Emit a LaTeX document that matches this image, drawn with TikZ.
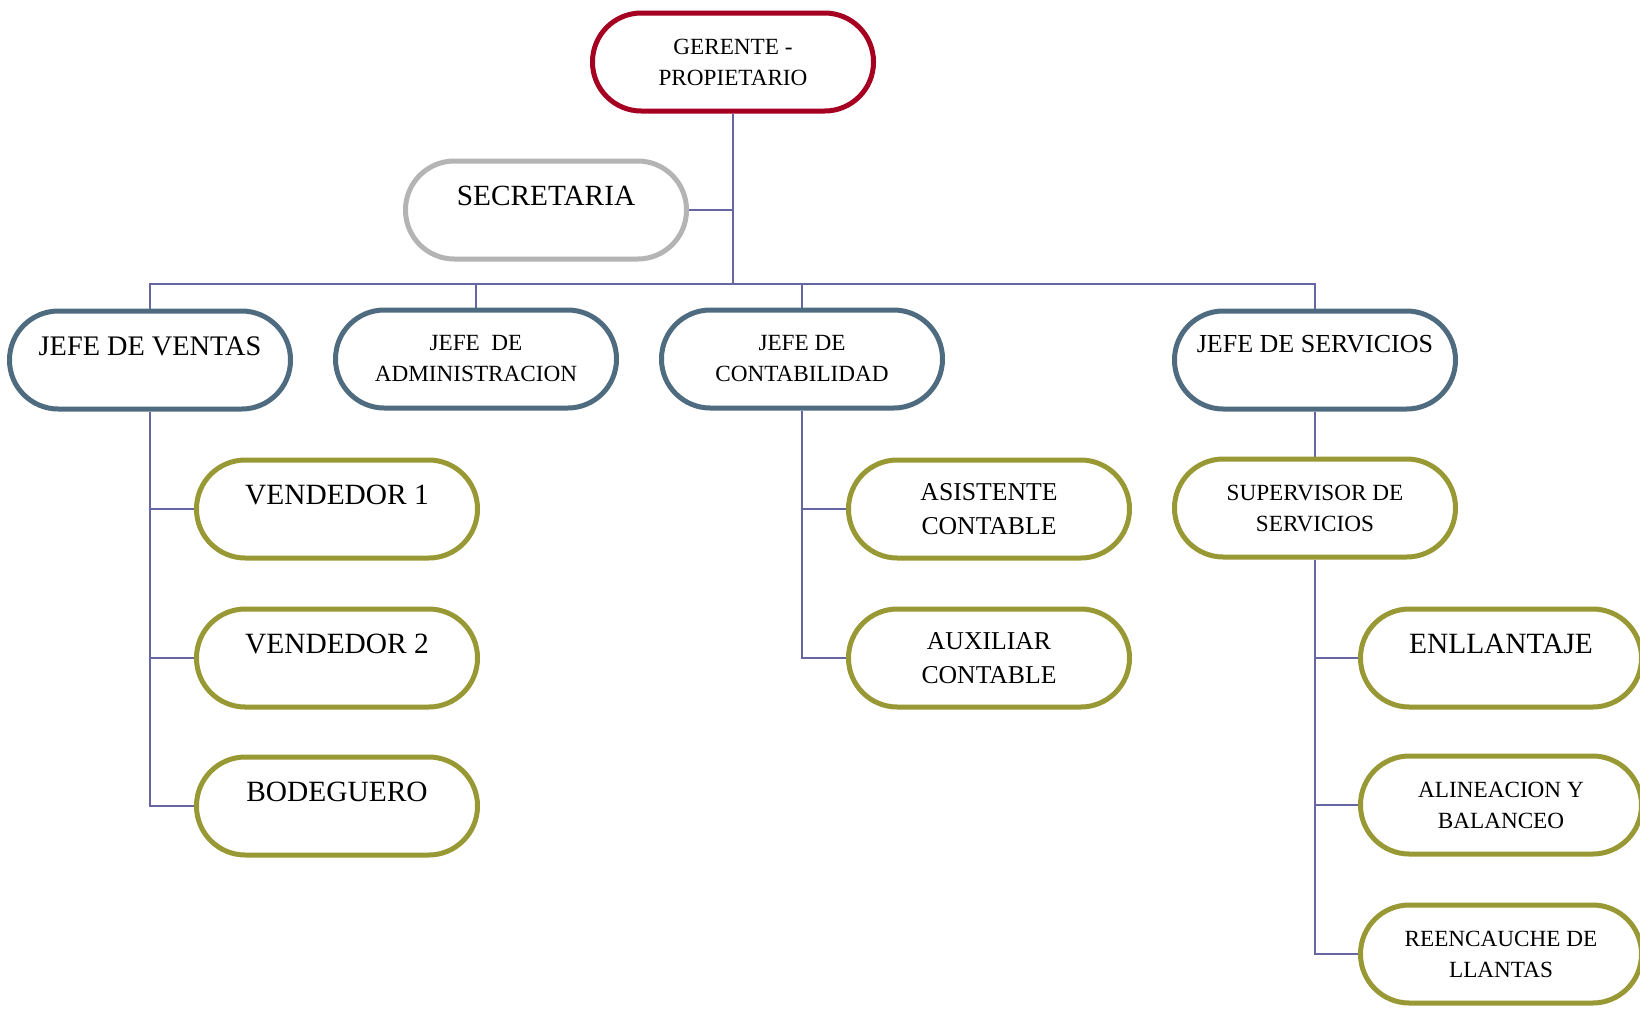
\documentclass[tikz,border=0pt]{standalone}
\usepackage{fontspec}
\setmainfont{Liberation Serif}
\usetikzlibrary{backgrounds}
\definecolor{cline}{RGB}{102,102,162}
\definecolor{cred}{RGB}{165,0,33}
\definecolor{cgray}{RGB}{180,180,180}
\definecolor{cblue}{RGB}{78,107,128}
\definecolor{colive}{RGB}{152,152,52}
\tikzset{
  box/.style={rectangle, rounded corners=24.4pt, minimum width=140.5pt,
    minimum height=49pt, line width=2.5pt, fill=white, inner sep=0pt,
    align=center, text=black},
  big/.style={font=\fontsize{#1}{17}\selectfont, text height=10pt, text depth=14.24pt},
  big/.default=14.7,
  mid/.style={font=\fontsize{12.85}{17.2}\selectfont},
  small/.style={font=\fontsize{11.6}{15.5}\selectfont},
  redbox/.style={box, draw=cred},
  graybox/.style={box, draw=cgray},
  bluebox/.style={box, draw=cblue},
  olivebox/.style={box, draw=colive},
  conn/.style={draw=cline, line width=1pt}
}
\begin{document}
\begin{tikzpicture}[x=0.5pt, y=-0.5pt]
\useasboundingbox (0,0) rectangle (1640,1008);
\node[redbox, small] (ger) at (733,62) {GERENTE -\\PROPIETARIO};
\node[graybox, big=14.65] (sec) at (546,210) {SECRETARIA};
\node[bluebox, big=14.15] (jv) at (150,360) {JEFE DE VENTAS};
\node[bluebox, small] (ja) at (476,359) {JEFE\ \ DE\\ADMINISTRACION};
\node[bluebox, small] (jc) at (802,359) {JEFE DE\\CONTABILIDAD};
\node[bluebox, big=13, text depth=17.5pt] (js) at (1315,360) {JEFE DE SERVICIOS};
\node[olivebox, big] (v1) at (337,509) {VENDEDOR 1};
\node[olivebox, big] (v2) at (337,658) {VENDEDOR 2};
\node[olivebox, big] (bod) at (337,806) {BODEGUERO};
\node[olivebox, mid] (asi) at (989,509) {ASISTENTE\\CONTABLE};
\node[olivebox, mid] (aux) at (989,658) {AUXILIAR\\CONTABLE};
\node[olivebox, small] (sup) at (1315,508) {SUPERVISOR DE\\SERVICIOS};
\node[olivebox, big] (enl) at (1501,658) {ENLLANTAJE};
\node[olivebox, small] (ali) at (1501,805) {ALINEACION Y\\BALANCEO};
\node[olivebox, small] (ree) at (1501,954) {REENCAUCHE DE\\LLANTAS};
\coordinate (busy) at (0,284);
\begin{scope}[on background layer]
\draw[conn] (ger.south) -- (ger.south |- busy);
\draw[conn] (sec.east) -- (sec.east -| ger.south);
\draw[conn] (jv.north) -- (jv.north |- busy) -- (js.north |- busy) -- (js.north);
\draw[conn] (ja.north) -- (ja.north |- busy);
\draw[conn] (jc.north) -- (jc.north |- busy);
\draw[conn] (jv.south) |- (bod.west);
\draw[conn] (v1.west) -- (v1.west -| jv.south);
\draw[conn] (v2.west) -- (v2.west -| jv.south);
\draw[conn] (jc.south) |- (aux.west);
\draw[conn] (asi.west) -- (asi.west -| jc.south);
\draw[conn] (js.south) -- (sup.north);
\draw[conn] (sup.south) |- (ree.west);
\draw[conn] (enl.west) -- (enl.west -| sup.south);
\draw[conn] (ali.west) -- (ali.west -| sup.south);
\end{scope}
\end{tikzpicture}
\end{document}
